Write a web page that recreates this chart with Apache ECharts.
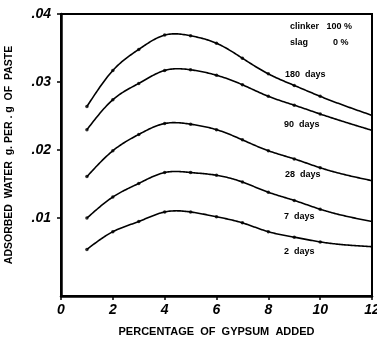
<!DOCTYPE html>
<html>
<head>
<meta charset="utf-8">
<script src="https://cdn.jsdelivr.net/npm/echarts@6/dist/echarts.min.js"></script>
<style>
  html, body { margin: 0; padding: 0; background: #fff; }
  #chart { width: 377px; height: 337px; }
</style>
</head>
<body>
<div id="chart"></div>
<script>
// Gypsum added (%) at each measured point; the last entry is where each curve meets the right edge
const gypsum = [1, 2, 3, 4, 5, 6, 7, 8, 9, 10, 12];

// Adsorbed water (g per g of paste) by hydration age
const days180 = [0.0264, 0.0317, 0.0348, 0.0369, 0.0368, 0.0357, 0.0335, 0.0312, 0.0295, 0.0279, 0.0251];
const days90  = [0.0230, 0.0274, 0.0298, 0.0317, 0.0318, 0.0310, 0.0296, 0.0279, 0.0266, 0.0253, 0.0229];
const days28  = [0.0161, 0.0199, 0.0223, 0.0239, 0.0238, 0.0230, 0.0215, 0.0199, 0.0187, 0.0174, 0.0155];
const days7   = [0.0100, 0.0131, 0.0151, 0.0167, 0.0167, 0.0163, 0.0153, 0.0138, 0.0126, 0.0113, 0.0095];
const days2   = [0.0054, 0.0080, 0.0095, 0.0109, 0.0109, 0.0102, 0.0093, 0.0080, 0.0072, 0.0065, 0.0058];

const seriesNames = ['180 days', '90 days', '28 days', '7 days', '2 days'];
const seriesValues = [days180, days90, days28, days7, days2];

const yTicks = [0.01, 0.02, 0.03, 0.04];
const xTicks = [0, 2, 4, 6, 8, 10, 12];

const font = 'Liberation Sans Narrow, Liberation Sans, Arial, sans-serif';

// Natural cubic spline through (xs, ys); returns a function y(x)
function naturalSpline(xs, ys) {
  const n = xs.length;
  const h = [];
  for (let i = 0; i < n - 1; i++) h.push(xs[i + 1] - xs[i]);
  const alpha = new Array(n).fill(0);
  for (let i = 1; i < n - 1; i++) {
    alpha[i] = 3 / h[i] * (ys[i + 1] - ys[i]) - 3 / h[i - 1] * (ys[i] - ys[i - 1]);
  }
  const l = new Array(n).fill(1), mu = new Array(n).fill(0), z = new Array(n).fill(0);
  for (let i = 1; i < n - 1; i++) {
    l[i] = 2 * (xs[i + 1] - xs[i - 1]) - h[i - 1] * mu[i - 1];
    mu[i] = h[i] / l[i];
    z[i] = (alpha[i] - h[i - 1] * z[i - 1]) / l[i];
  }
  const c = new Array(n).fill(0), b = new Array(n).fill(0), d = new Array(n).fill(0);
  for (let j = n - 2; j >= 0; j--) {
    c[j] = z[j] - mu[j] * c[j + 1];
    b[j] = (ys[j + 1] - ys[j]) / h[j] - h[j] * (c[j + 1] + 2 * c[j]) / 3;
    d[j] = (c[j + 1] - c[j]) / (3 * h[j]);
  }
  return function (x) {
    let i = 0;
    while (i < n - 2 && x > xs[i + 1]) i++;
    const dx = x - xs[i];
    return ys[i] + b[i] * dx + c[i] * dx * dx + d[i] * dx * dx * dx;
  };
}

const chart = echarts.init(document.getElementById('chart'), null, { renderer: 'canvas' });

const series = [];
seriesValues.forEach((vals, i) => {
  const f = naturalSpline(gypsum, vals);
  const x0 = gypsum[0], x1 = gypsum[gypsum.length - 1];
  // smooth curve through the measured values, placed via the axis scales
  series.push({
    name: seriesNames[i],
    type: 'custom',
    coordinateSystem: 'cartesian2d',
    data: vals.map((v, j) => [gypsum[j], v]),
    silent: true,
    renderItem: function (params, api) {
      if (params.dataIndex !== 0) return null;
      const pts = [];
      const steps = 220;
      for (let k = 0; k <= steps; k++) {
        const x = x0 + (x1 - x0) * k / steps;
        pts.push(api.coord([x, f(x)]));
      }
      return {
        type: 'polyline',
        shape: { points: pts },
        style: { stroke: '#000', lineWidth: 1.6, fill: null }
      };
    }
  });
  // the measured points themselves
  series.push({
    name: seriesNames[i] + ' points',
    type: 'scatter',
    symbol: 'circle',
    symbolSize: 3.5,
    data: vals.slice(0, vals.length - 1).map((v, j) => [gypsum[j], v]),
    itemStyle: { color: '#000' },
    emphasis: { disabled: true },
    silent: true
  });
});

chart.setOption({
  animation: false,
  backgroundColor: '#fff',
  grid: {
    left: 61, right: 5, top: 14, bottom: 41,
    outerBoundsMode: 'none',
    show: true, borderColor: '#000', borderWidth: 2
  },
  xAxis: {
    type: 'value',
    min: 0, max: 12, interval: 2,
    name: 'PERCENTAGE  OF  GYPSUM  ADDED',
    nameLocation: 'middle',
    nameGap: 30,
    nameTextStyle: { color: '#000', fontFamily: font, fontSize: 11, fontWeight: 'bold' },
    axisLine: { show: true, onZero: false, lineStyle: { color: '#000', width: 2.5 } },
    axisTick: { show: true, length: 4, lineStyle: { color: '#000', width: 1.5 } },
    axisLabel: { color: '#000', fontFamily: font, fontSize: 14, fontWeight: 'bold', fontStyle: 'italic', margin: 7,
      customValues: xTicks },
    splitLine: { show: false }
  },
  yAxis: {
    type: 'value',
    min: -0.00145, max: 0.04,
    name: 'ADSORBED  WATER  g. PER . g  OF  PASTE',
    nameLocation: 'middle',
    nameGap: 46,
    nameTextStyle: { color: '#000', fontFamily: font, fontSize: 10.5, fontWeight: 'bold' },
    axisLine: { show: true, onZero: false, lineStyle: { color: '#000', width: 2.5 } },
    axisTick: { show: true, length: 4, lineStyle: { color: '#000', width: 1.5 }, customValues: yTicks },
    axisLabel: {
      color: '#000', fontFamily: font, fontSize: 14, fontWeight: 'bold', fontStyle: 'italic', margin: 10,
      customValues: yTicks,
      formatter: v => v.toFixed(2).replace(/^0/, '')
    },
    splitLine: { show: false }
  },
  graphic: [
    { type: 'text', left: 290, top: 22, style: { text: 'clinker   100 %', fill: '#000', font: 'bold 9px ' + font } },
    { type: 'text', left: 290, top: 38, style: { text: 'slag          0 %', fill: '#000', font: 'bold 9px ' + font } },
    { type: 'text', left: 285, top: 70, style: { text: '180  days', fill: '#000', font: 'bold 9px ' + font } },
    { type: 'text', left: 284, top: 120, style: { text: '90  days', fill: '#000', font: 'bold 9px ' + font } },
    { type: 'text', left: 285, top: 170, style: { text: '28  days', fill: '#000', font: 'bold 9px ' + font } },
    { type: 'text', left: 284, top: 212, style: { text: '7  days', fill: '#000', font: 'bold 9px ' + font } },
    { type: 'text', left: 284, top: 247, style: { text: '2  days', fill: '#000', font: 'bold 9px ' + font } }
  ],
  series: series
});
</script>
</body>
</html>
